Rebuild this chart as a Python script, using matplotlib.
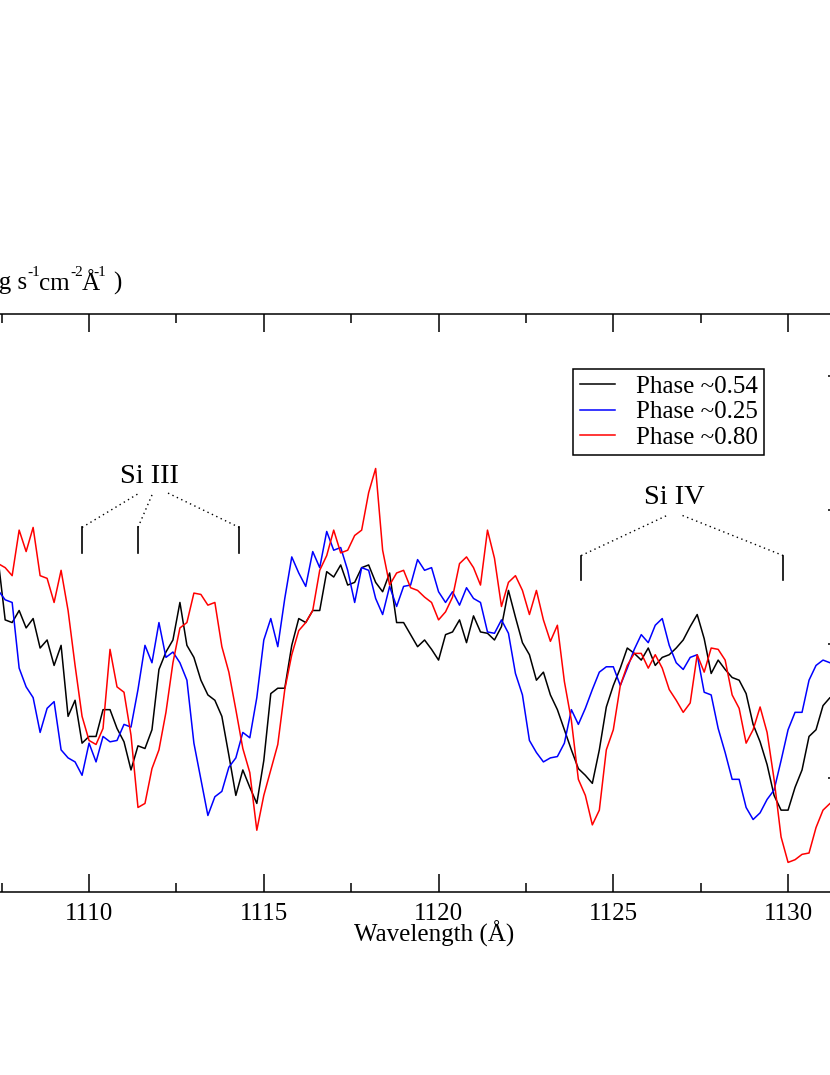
import matplotlib
matplotlib.use("Agg")
import matplotlib.pyplot as plt
from matplotlib.ticker import MultipleLocator

plt.rcParams['font.family'] = ['Liberation Serif', 'DejaVu Serif']

# wavelength grid (Angstrom), shared by the three spectra
wave = [1107.4, 1107.6, 1107.8, 1108.0, 1108.2, 1108.4, 1108.6, 1108.8, 1109.0, 1109.2,
        1109.4, 1109.6, 1109.8, 1110.0, 1110.2, 1110.4, 1110.6, 1110.8, 1111.0, 1111.2,
        1111.4, 1111.6, 1111.8, 1112.0, 1112.2, 1112.4, 1112.6, 1112.8, 1113.0, 1113.2,
        1113.4, 1113.6, 1113.8, 1114.0, 1114.2, 1114.4, 1114.6, 1114.8, 1115.0, 1115.2,
        1115.4, 1115.6, 1115.8, 1116.0, 1116.2, 1116.4, 1116.6, 1116.8, 1117.0, 1117.2,
        1117.4, 1117.6, 1117.8, 1118.0, 1118.2, 1118.4, 1118.6, 1118.8, 1119.0, 1119.2,
        1119.4, 1119.6, 1119.8, 1120.0, 1120.2, 1120.4, 1120.6, 1120.8, 1121.0, 1121.2,
        1121.4, 1121.6, 1121.8, 1122.0, 1122.2, 1122.4, 1122.6, 1122.8, 1123.0, 1123.2,
        1123.4, 1123.6, 1123.8, 1124.0, 1124.2, 1124.4, 1124.6, 1124.8, 1125.0, 1125.2,
        1125.4, 1125.6, 1125.8, 1126.0, 1126.2, 1126.4, 1126.6, 1126.8, 1127.0, 1127.2,
        1127.4, 1127.6, 1127.8, 1128.0, 1128.2, 1128.4, 1128.6, 1128.8, 1129.0, 1129.2,
        1129.4, 1129.6, 1129.8, 1130.0, 1130.2, 1130.4, 1130.6, 1130.8, 1131.0, 1131.2,
        1131.4]

flux_054 = [2.63, 2.18, 2.16, 2.25, 2.12, 2.19, 1.97, 2.03, 1.84, 1.99,
            1.46, 1.58, 1.26, 1.31, 1.31, 1.51, 1.51, 1.37, 1.27, 1.06,
            1.24, 1.22, 1.36, 1.81, 1.94, 2.03, 2.31, 1.99, 1.90, 1.73,
            1.62, 1.58, 1.46, 1.17, 0.87, 1.06, 0.93, 0.81, 1.13, 1.63,
            1.67, 1.67, 1.99, 2.19, 2.16, 2.25, 2.25, 2.54, 2.50, 2.59,
            2.44, 2.46, 2.57, 2.59, 2.46, 2.39, 2.53, 2.16, 2.16, 2.07,
            1.98, 2.03, 1.96, 1.88, 2.07, 2.09, 2.18, 2.01, 2.21, 2.09,
            2.08, 2.03, 2.13, 2.40, 2.20, 2.01, 1.92, 1.73, 1.79, 1.62,
            1.51, 1.36, 1.21, 1.07, 1.02, 0.96, 1.21, 1.53, 1.69, 1.82,
            1.97, 1.93, 1.88, 1.97, 1.84, 1.90, 1.92, 1.97, 2.03, 2.13,
            2.22, 2.04, 1.78, 1.88, 1.81, 1.75, 1.73, 1.63, 1.40, 1.27,
            1.10, 0.87, 0.76, 0.76, 0.93, 1.06, 1.31, 1.36, 1.54, 1.60,
            1.60]

flux_025 = [2.40, 2.33, 2.31, 1.82, 1.68, 1.60, 1.34, 1.52, 1.57, 1.21,
            1.15, 1.12, 1.02, 1.26, 1.12, 1.31, 1.27, 1.28, 1.40, 1.38,
            1.66, 1.99, 1.86, 2.16, 1.90, 1.94, 1.86, 1.73, 1.26, 0.99,
            0.72, 0.86, 0.90, 1.08, 1.15, 1.34, 1.30, 1.60, 2.03, 2.19,
            1.98, 2.34, 2.65, 2.53, 2.43, 2.69, 2.57, 2.84, 2.70, 2.72,
            2.55, 2.31, 2.57, 2.55, 2.34, 2.22, 2.43, 2.28, 2.43, 2.44,
            2.63, 2.55, 2.57, 2.39, 2.31, 2.39, 2.29, 2.42, 2.34, 2.31,
            2.09, 2.08, 2.18, 2.08, 1.78, 1.62, 1.28, 1.19, 1.12, 1.15,
            1.16, 1.26, 1.51, 1.40, 1.52, 1.66, 1.79, 1.83, 1.83, 1.69,
            1.82, 1.96, 2.07, 2.01, 2.14, 2.19, 1.99, 1.86, 1.81, 1.90,
            1.92, 1.64, 1.62, 1.37, 1.19, 0.99, 0.99, 0.78, 0.69, 0.74,
            0.84, 0.91, 1.13, 1.36, 1.49, 1.49, 1.73, 1.84, 1.88, 1.86,
            1.86]

flux_080 = [2.60, 2.57, 2.51, 2.85, 2.69, 2.87, 2.51, 2.49, 2.31, 2.55,
            2.25, 1.84, 1.46, 1.28, 1.25, 1.37, 1.96, 1.68, 1.64, 1.32,
            0.78, 0.81, 1.07, 1.21, 1.49, 1.86, 2.12, 2.16, 2.38, 2.37,
            2.29, 2.31, 1.98, 1.79, 1.51, 1.22, 1.04, 0.61, 0.87, 1.06,
            1.25, 1.66, 1.92, 2.10, 2.16, 2.25, 2.55, 2.66, 2.85, 2.68,
            2.70, 2.81, 2.85, 3.13, 3.31, 2.70, 2.44, 2.53, 2.55, 2.42,
            2.40, 2.35, 2.31, 2.18, 2.24, 2.35, 2.60, 2.65, 2.57, 2.44,
            2.85, 2.64, 2.28, 2.46, 2.51, 2.40, 2.22, 2.40, 2.18, 2.02,
            2.14, 1.72, 1.43, 0.99, 0.87, 0.65, 0.76, 1.21, 1.36, 1.69,
            1.84, 1.93, 1.93, 1.82, 1.92, 1.82, 1.66, 1.58, 1.49, 1.56,
            1.92, 1.79, 1.97, 1.96, 1.88, 1.62, 1.52, 1.26, 1.36, 1.53,
            1.34, 0.99, 0.56, 0.37, 0.39, 0.43, 0.44, 0.63, 0.76, 0.81,
            0.84]

labels = ['Phase ~0.54', 'Phase ~0.25', 'Phase ~0.80']
colors = ['black', 'blue', 'red']

# line identifications
si3_lines = [1109.8, 1111.4, 1114.3]
si3_joins = [1111.46, 1111.83, 1112.23]
si4_lines = [1124.08, 1129.86]
si4_joins = [1126.54, 1126.97]

fig = plt.figure(figsize=(8.3, 10.75), dpi=100)
# the page is cropped: left and right y axes fall just outside the picture
ax = fig.add_axes([-0.02325, 0.17023, 1.0422, 0.53767])

for f, lab, c in zip([flux_054, flux_025, flux_080], labels, colors):
    ax.plot(wave, f, color=c, lw=1.1, label=lab)

# Si III markers
for w, j in zip(si3_lines, si3_joins):
    ax.plot([w, w], [2.68, 2.87], color='black', lw=1.2)
    ax.plot([w, j], [2.87, 3.13], color='black', lw=1.0, ls=(0, (1, 2.5)))
ax.text(1111.72, 3.25, 'Si III', ha='center', va='center', fontsize=20.5)

# Si IV markers
for w, j in zip(si4_lines, si4_joins):
    ax.plot([w, w], [2.48, 2.66], color='black', lw=1.2)
    ax.plot([w, j], [2.66, 2.96], color='black', lw=1.0, ls=(0, (1, 2.5)))
ax.text(1126.75, 3.09, 'Si IV', ha='center', va='center', fontsize=20.5)

ax.set_xlim(1106.9, 1131.65)
ax.set_ylim(0.149, 4.463)
ax.xaxis.set_major_locator(MultipleLocator(5))
ax.xaxis.set_minor_locator(MultipleLocator(2.5))
ax.yaxis.set_major_locator(MultipleLocator(1))
ax.yaxis.set_minor_locator(MultipleLocator(0.5))
ax.tick_params(which='both', direction='in', top=True, right=True, width=1.1,
               labelsize=18, pad=8, labelleft=False)
ax.tick_params(which='major', length=13)
ax.tick_params(which='minor', length=6.5)
for s in ax.spines.values():
    s.set_linewidth(1.1)

ax.set_xlabel('Wavelength (Å)', fontsize=18, va='baseline')
ax.xaxis.set_label_coords(0.524, -0.0865)

# flux unit label, set piece by piece like the original (superscripts raised)
W, H = 830.0, 1075.0
fig.text(27 / W, 1 - 290 / H, 'Flux (erg s', ha='right', va='baseline', fontsize=18)
unit_parts = [('-1', 27, 276, 11), ('cm', 39, 290, 18), ('-2', 70, 276, 11),
              ('Å', 82, 290, 18), ('-1', 93, 276, 11), (')', 113, 290, 18)]
for txt, px, py, fs in unit_parts:
    fig.text(px / W, 1 - py / H, txt, ha='left', va='baseline', fontsize=fs)

leg = ax.legend(loc='upper left', bbox_to_anchor=(573 / W, 1 - 369 / H),
                bbox_transform=fig.transFigure, fontsize=18, frameon=True,
                fancybox=False, edgecolor='black', framealpha=1,
                handlelength=1.4, handletextpad=0.85, labelspacing=0.11,
                borderpad=0.26, borderaxespad=0)
leg.get_frame().set_linewidth(1.1)

fig.savefig('out.png', dpi=100)
